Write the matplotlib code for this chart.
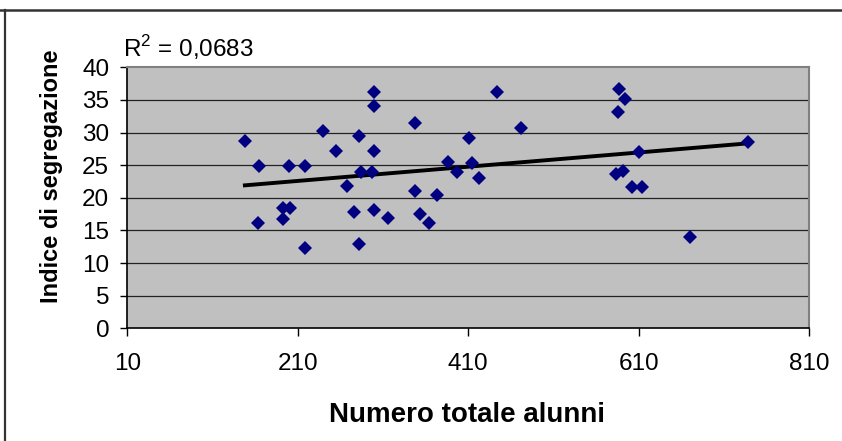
import matplotlib
matplotlib.use("Agg")
import matplotlib.pyplot as plt
from matplotlib.lines import Line2D
import numpy as np

plt.rcParams["font.family"] = ["Liberation Sans", "DejaVu Sans"]
plt.rcParams["mathtext.fontset"] = "custom"
plt.rcParams["mathtext.rm"] = "Liberation Sans"

# values
alunni = [148, 165, 163, 200, 219, 193, 201, 193, 219, 240, 255, 268, 276,
          299, 299, 348, 282, 299, 284, 297, 299, 316, 282, 348, 353, 364,
          374, 386, 397, 414, 423, 411, 444, 472,
          587, 594, 586, 611, 583, 592, 602, 614, 670, 738]
segregazione = [28.75, 24.8, 16.2, 24.8, 24.8, 18.4, 18.4, 16.75, 12.25, 30.3, 27.2, 21.8, 17.8,
                36.2, 34.0, 31.5, 29.4, 27.2, 23.9, 23.9, 18.1, 16.9, 12.9, 21.1, 17.5, 16.2,
                20.5, 25.5, 23.9, 25.3, 23.0, 29.1, 36.2, 30.65,
                36.6, 35.2, 33.1, 27.0, 23.6, 24.15, 21.7, 21.7, 14.0, 28.5]
x_ticks = [10, 210, 410, 610, 810]
y_ticks = [0, 5, 10, 15, 20, 25, 30, 35, 40]
r2_label = "R$^2$ = 0,0683"

W, H = 842, 441
fig = plt.figure(figsize=(W / 100, H / 100), dpi=100)
ax = fig.add_axes([127.3 / W, 1 - 328.3 / H, (809 - 127.3) / W, (328.3 - 67.3) / H])
ax.set_facecolor("#C0C0C0")

for yv in y_ticks[1:-1]:
    ax.axhline(yv, color="#222222", lw=0.9, zorder=1)

# linear trend line
k, q = np.polyfit(alunni, segregazione, 1)
xs = np.array([min(alunni), max(alunni)])
ax.plot(xs, k * xs + q, color="black", lw=2.8, zorder=2)

ax.plot(alunni, segregazione, linestyle="None", marker="D", ms=7.6,
        color="#000080", markeredgewidth=0, zorder=3)

ax.set_xlim(10, 810)
ax.set_ylim(0, 40)
ax.set_xticks(x_ticks)
ax.set_yticks(y_ticks)
ax.tick_params(axis="y", direction="out", length=5, width=1, pad=8, labelsize=17.5)
ax.tick_params(axis="x", direction="out", length=6, width=1, pad=12, labelsize=17.5)
for s in ["left", "bottom"]:
    ax.spines[s].set_color("black")
    ax.spines[s].set_linewidth(1.2)
for s in ["top", "right"]:
    ax.spines[s].set_color("#808080")
    ax.spines[s].set_linewidth(1.5)

fig.text(467 / W, 1 - 415 / H, "Numero totale alunni", ha="center", va="center",
         fontsize=20, fontweight="bold")
fig.text(52 / W, 1 - 176 / H, "Indice di segregazione", ha="center", va="center",
         rotation=90, fontsize=17, fontweight="bold")
fig.text(123 / W, 1 - 48 / H, r2_label, ha="left", va="center", fontsize=17.5)

# chart area frame (only top and left visible)
fig.add_artist(Line2D([0, 1], [1 - 10 / H, 1 - 10 / H], color="#333333", lw=1.8))
fig.add_artist(Line2D([5 / W, 5 / W], [0, 1 - 10 / H], color="#333333", lw=1.6))

fig.savefig("out.png", dpi=100)
